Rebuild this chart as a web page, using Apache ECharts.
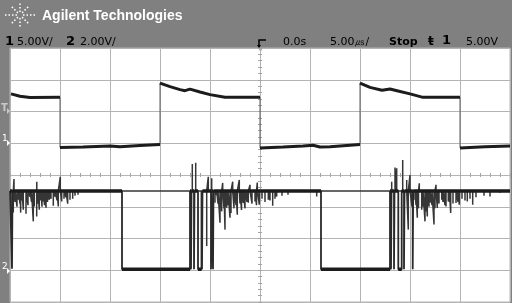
<!DOCTYPE html>
<html><head><meta charset="utf-8">
<script src="https://cdn.jsdelivr.net/npm/echarts@6/dist/echarts.min.js"></script>
<style>html,body{margin:0;padding:0;background:#808080;}#c{width:512px;height:303px;}</style>
</head><body><div id="c"></div>
<script>
// Channel 1 (5 V/div) trace: time in µs, volts
const ch1T = [-24.9,-24,-23,-20, -20,-17.7,-15,-14,-12,-10, -10,-9,-8,-7.5,-7,-6,-5,-3.5,0, 0,2.3,4.3,5.3,6,7,10, 10,11,12.2,13,13.7,15,16.3,20, 20,22.5,25];
const ch1V = [7.77,7.39,7.19,7.23, -0.67,-0.58,-0.42,-0.55,-0.36,-0.20, 9.48,8.91,8.45,8.28,8.52,8.08,7.66,7.23,7.23, -0.73,-0.58,-0.42,-0.31,-0.6,-0.55,-0.20, 9.48,8.80,8.35,8.55,8.28,7.77,7.23,7.23, -0.73,-0.55,-0.42];
// Channel 2 (2 V/div) base trace
const ch2T = [-25,-24.8,-24.8,-24.75,-24.75,-13.8,-13.8,-7.0,-7.0,-6.9,-6.9,-6.85,-6.85,-6.6,-6.6,-6.55,-6.55,-6.2,-6.2,-5.85,-5.85,-5.8,-5.8,-5.75,-5.75,-4.9,-4.9,-4.85,-4.85,-4.7,-4.7,-4.65,-4.65,6.1,6.1,13.0,13.0,13.1,13.1,13.15,13.15,13.4,13.4,13.45,13.45,13.83,13.83,14.17,14.17,14.4,14.4,14.45,14.45,15.27,15.27,15.32,15.32,25];
const ch2V = [5.0,5.0,0.1,0.1,5.0,5.0,0.06,0.06,5.0,5.0,0.06,0.06,5.0,5.0,0.06,0.06,5.0,5.0,0.06,0.06,5.0,5.0,0.06,0.06,5.0,5.0,0.06,0.06,5.0,5.0,0.06,0.06,5.0,5.0,0.06,0.06,5.0,5.0,0.06,0.06,5.0,5.0,0.06,0.06,5.0,5.0,0.06,0.06,5.0,5.0,0.06,0.06,5.0,5.0,0.06,0.06,5.0,5.0];
// Channel 2 ringing spikes (time µs, peak volts)
const spikeT = [-24.9,-24.67,-24.6,-24.5,-24.3,-24.17,-24.0,-23.93,-23.8,-23.67,-23.4,-23.2,-23.0,-22.85,-22.67,-22.57,-22.33,-22.32,-22.2,-22.07,-21.9,-21.8,-21.67,-21.55,-21.4,-21.25,-21.07,-20.9,-20.67,-20.5,-20.3,-20.17,-19.97,-19.83,-19.6,-19.4,-19.23,-19.0,-18.73,-18.5,-18.2,-17.7,-16.0,-14.3,
  -6.77,-6.43,-5.33,-5.17,-4.83,-4.5,-4.33,-4.2,-4.0,-3.9,-3.83,-3.73,-3.6,-3.5,-3.33,-3.2,-3.0,-2.9,-2.73,-2.6,-2.5,-2.4,-2.27,-2.07,-2.0,-1.85,-1.67,-1.5,-1.3,-1.17,-1.0,-0.8,-0.5,-0.35,-0.27,-0.07,0.2,0.5,0.83,1.0,1.27,1.5,1.67,2.2,2.8,3.3,5.67,
  13.17,13.5,13.67,14.27,14.67,14.83,15.0,15.2,15.5,15.6,15.73,15.85,15.93,16.17,16.3,16.5,16.6,16.73,16.9,17.0,17.2,17.4,17.5,17.6,17.73,17.9,18.17,18.3,18.5,18.6,18.83,18.95,19.07,19.3,19.6,19.8,19.93,20.2,20.5,20.73,21.0,21.27,21.6,22.0,22.4,23.0,24.0];
const spikeV = [3.63,3.63,5.75,4.3,4.0,4.44,4.2,3.63,4.4,3.81,3.56,4.1,4.63,4.3,3.08,4.02,3.38,5.58,4.2,3.81,4.4,4.0,4.33,4.1,3.94,4.3,4.44,4.5,4.06,4.64,4.4,4.02,5.89,4.33,4.5,4.6,4.19,4.44,4.5,4.7,4.75,4.88,4.88,4.88,
  6.69,6.77,1.52,5.89,5.79,4.25,4.75,4.2,3.0,4.0,3.71,5.5,3.9,2.56,3.94,4.1,3.31,3.6,5.58,3.9,4.25,4.1,3.5,5.69,4.2,3.8,4.25,3.9,4.3,4.25,5.38,4.2,4.33,4.1,5.52,4.13,4.5,4.3,4.44,4.4,4.06,4.5,4.64,4.7,4.75,4.88,4.64,
  5.58,6.48,6.42,6.94,5.69,2.56,6.0,4.0,4.44,4.1,3.31,3.9,5.48,3.81,4.0,3.08,3.7,3.39,4.0,4.25,4.1,2.88,3.9,5.38,3.92,4.2,4.44,4.3,4.1,4.02,4.33,4.3,3.61,4.2,4.23,4.3,4.13,4.5,4.4,4.33,4.5,4.13,4.6,4.88,4.7,4.64,4.88];
const ch2High = 5.0;

function plateaus(T, V){
  const out=[];
  for(let i=0;i<T.length;i++){
    if(i>0 && Math.abs(T[i]-T[i-1])<0.01 && Math.abs(V[i]-V[i-1])>1) out.push([null,null]);
    out.push([T[i],V[i]]);
  }
  return out;
}
const ch1Full = ch1T.map((t,i)=>[t,ch1V[i]]);
const ch2Full = ch2T.map((t,i)=>[t,ch2V[i]]);
const spikes = [];
spikeT.forEach((t,i)=>{spikes.push([t,ch2High],[t,spikeV[i]],[t,ch2High]);});

const chart = echarts.init(document.getElementById('c'), null, {renderer:'canvas'});
const gridC = '#b4b4b4';
const tickC = '#a4a4a4';
const noLbl = {show:false};
chart.setOption({
  backgroundColor:'#808080',
  animation:false,
  grid:{left:10,right:2,top:48,bottom:1,show:true,backgroundColor:'#ffffff',borderColor:gridC,borderWidth:1},
  xAxis:[
    {type:'value',min:-25,max:25,interval:5,axisLine:{show:false},axisTick:{show:false},axisLabel:noLbl,splitLine:{show:true,lineStyle:{color:gridC,width:1}}},
    {type:'value',min:-25,max:25,interval:1,position:'bottom',offset:-127,axisLine:{show:false},axisTick:{show:true,inside:true,length:2,lineStyle:{color:tickC}},axisLabel:noLbl,splitLine:{show:false}},
    {type:'value',min:-25,max:25,interval:1,position:'bottom',offset:-127,axisLine:{show:false},axisTick:{show:true,inside:false,length:2,lineStyle:{color:tickC}},axisLabel:noLbl,splitLine:{show:false}}
  ],
  yAxis:[
    {type:'value',min:-25,max:15,interval:5,axisLine:{show:false},axisTick:{show:false},axisLabel:noLbl,splitLine:{show:true,lineStyle:{color:gridC,width:1}}},
    {type:'value',min:-2,max:14,interval:2,axisLine:{show:false},axisTick:{show:false},axisLabel:noLbl,splitLine:{show:false}},
    {type:'value',min:-25,max:15,interval:1,position:'left',offset:-250,axisLine:{show:false},axisTick:{show:true,inside:true,length:2,lineStyle:{color:tickC}},axisLabel:noLbl,splitLine:{show:false}},
    {type:'value',min:-25,max:15,interval:1,position:'left',offset:-250,axisLine:{show:false},axisTick:{show:true,inside:false,length:2,lineStyle:{color:tickC}},axisLabel:noLbl,splitLine:{show:false}}
  ],
  series:[
    {type:'line',data:ch1Full,xAxisIndex:0,yAxisIndex:0,symbol:'none',lineStyle:{color:'#5a5a5a',width:1},z:3},
    {type:'line',data:plateaus(ch1T,ch1V),xAxisIndex:0,yAxisIndex:0,symbol:'none',connectNulls:false,lineStyle:{color:'#1c1c1c',width:3},z:4},
    {type:'line',data:spikes,xAxisIndex:0,yAxisIndex:1,symbol:'none',lineStyle:{color:'#363636',width:1.5},z:3},
    {type:'line',data:ch2Full,xAxisIndex:0,yAxisIndex:1,symbol:'none',lineStyle:{color:'#2a2a2a',width:1.8},z:4},
    {type:'line',data:plateaus(ch2T,ch2V),xAxisIndex:0,yAxisIndex:1,symbol:'none',connectNulls:false,lineStyle:{color:'#1c1c1c',width:3.5},z:5}
  ],
  graphic:[
    {type:'group',x:20,y:15,children:[0,45,90,135,180,225,270,315].map(a=>{
      const r = (a%180===0)?16:((a%90===0)?13:12);
      return {type:'line',shape:{x1:Math.cos(a*Math.PI/180)*3,y1:Math.sin(a*Math.PI/180)*3,x2:Math.cos(a*Math.PI/180)*r,y2:Math.sin(a*Math.PI/180)*r},style:{stroke:'#ffffff',lineWidth:1.5,lineDash:[1.5,2]}};
    })},
    {type:'text',x:42,y:16,style:{text:'Agilent Technologies',fill:'#ffffff',fontSize:14,fontWeight:'bold',fontFamily:'Liberation Sans',verticalAlign:'middle'}},
    {type:'text',x:5,y:42,style:{text:'1',fill:'#000',fontSize:13,fontWeight:'bold',fontFamily:'DejaVu Sans',verticalAlign:'middle'}},
    {type:'text',x:17,y:42,style:{text:'5.00V/',fill:'#000',fontSize:11,fontFamily:'DejaVu Sans',verticalAlign:'middle'}},
    {type:'text',x:66,y:42,style:{text:'2',fill:'#000',fontSize:13,fontWeight:'bold',fontFamily:'DejaVu Sans',verticalAlign:'middle'}},
    {type:'text',x:80,y:42,style:{text:'2.00V/',fill:'#000',fontSize:11,fontFamily:'DejaVu Sans',verticalAlign:'middle'}},
    {type:'polyline',shape:{points:[[266,40],[259,40],[259,47]]},style:{stroke:'#000',lineWidth:1.5,fill:null}},
    {type:'polygon',shape:{points:[[257,45],[261,45],[259,48]]},style:{fill:'#000'}},
    {type:'polygon',shape:{points:[[258,48],[263,48],[260.5,52]]},style:{fill:'#a8a8a8'}},
    {type:'text',x:283,y:42,style:{text:'0.0s',fill:'#000',fontSize:11,fontFamily:'DejaVu Sans',verticalAlign:'middle'}},
    {type:'text',x:330,y:42,style:{text:'5.00㎲/',fill:'#000',fontSize:11,fontFamily:'DejaVu Sans',verticalAlign:'middle'}},
    {type:'text',x:389,y:42,style:{text:'Stop',fill:'#000',fontSize:11,fontWeight:'bold',fontFamily:'DejaVu Sans',verticalAlign:'middle'}},
    {type:'text',x:428,y:42,style:{text:'ŧ',fill:'#000',fontSize:12,fontWeight:'bold',fontFamily:'DejaVu Sans',verticalAlign:'middle'}},
    {type:'text',x:442,y:41,style:{text:'1',fill:'#000',fontSize:13,fontWeight:'bold',fontFamily:'DejaVu Sans',verticalAlign:'middle'}},
    {type:'text',x:466,y:42,style:{text:'5.00V',fill:'#000',fontSize:11,fontFamily:'DejaVu Sans',verticalAlign:'middle'}},
    {type:'text',x:1,y:108,style:{text:'T',fill:'#c8c8c8',fontSize:10,fontWeight:'bold',fontFamily:'DejaVu Sans',verticalAlign:'middle'}},
    {type:'polygon',shape:{points:[[7,108],[10,111],[7,114]]},style:{fill:'#c8c8c8'}},
    {type:'text',x:2,y:139,style:{text:'1',fill:'#ffffff',fontSize:9,fontFamily:'DejaVu Sans',verticalAlign:'middle'}},
    {type:'polygon',shape:{points:[[7,140],[10,143],[7,146]]},style:{fill:'#ffffff'}},
    {type:'text',x:2,y:267,style:{text:'2',fill:'#ffffff',fontSize:9,fontFamily:'DejaVu Sans',verticalAlign:'middle'}},
    {type:'polygon',shape:{points:[[7,268],[10,271],[7,274]]},style:{fill:'#ffffff'}}
  ]
});
</script></body></html>
